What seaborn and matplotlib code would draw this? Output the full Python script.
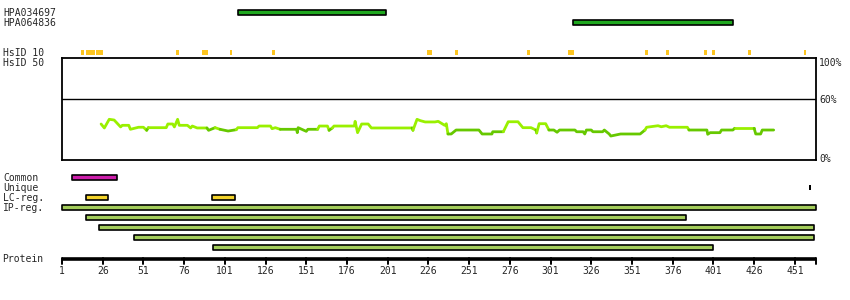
import matplotlib
matplotlib.use("Agg")
import matplotlib.pyplot as plt
import seaborn as sns
import numpy as np

# ---------------- data ----------------
protein_length = 464
tick_values = [1, 26, 51, 76, 101, 126, 151, 176, 201, 226, 251, 276, 301, 326, 351, 376, 401, 426, 451]

antibody_names = ["HPA034697", "HPA064836"]
antibody_start = [109, 315]
antibody_end = [200, 413]

hsid10_start = [12.7, 15.7, 21.9, 71.0, 86.9, 104.0, 129.8, 224.9, 242.1, 286.3, 312.0, 359.3, 371.6, 395.5, 400.4, 422.5, 456.8]
hsid10_end = [14.5, 21.2, 26.2, 72.8, 90.6, 105.3, 131.7, 228.0, 243.9, 288.1, 315.1, 361.1, 374.0, 397.3, 402.2, 424.3, 458.0]

common_start = [7]
common_end = [34.5]
unique_pos = [460]
lc_start = [16, 93]
lc_end = [29, 107]
ip_start = [1, 16, 24, 45, 94]
ip_end = [464, 384, 462.5, 462.5, 400.5]

sim_res = [25, 27, 30, 33, 37, 38, 42, 43, 48, 51, 53, 54, 65, 66, 69, 70, 72, 73, 78, 80, 81, 84, 90, 91,
           95, 98, 103, 108, 109, 121, 122, 129, 130, 132, 135, 145, 145.5, 146, 151, 152, 158, 159, 164,
           165, 167, 168, 180.5, 181, 182.5, 185, 189, 191, 216, 216.5, 219, 221, 224, 230, 232, 236, 237,
           238, 240, 243, 257, 259, 265, 265.5, 272, 275, 281, 284, 289, 292, 292.5, 294, 298, 300, 303,
           305, 306.5, 316, 317, 321, 322, 323, 326, 327, 333, 334, 337, 338, 344, 356, 359, 360, 367, 369,
           372, 374, 385, 386, 397, 397.5, 399, 405, 406, 413, 414, 426, 427, 430, 431, 438]
sim_pct = [35.3, 31.4, 39.9, 39.2, 32.4, 34.0, 34.0, 30.1, 32.1, 32.1, 29.1, 31.7, 31.7, 35.3, 35.3, 32.4,
           39.9, 34.0, 34.0, 31.4, 33.3, 31.4, 31.4, 29.1, 31.7, 30.1, 28.4, 29.7, 31.7, 31.7, 33.3, 33.3,
           30.7, 31.7, 30.1, 30.1, 26.8, 31.7, 28.1, 30.1, 30.1, 33.3, 33.3, 29.1, 31.4, 33.3, 33.3, 37.9,
           26.8, 35.3, 35.3, 31.4, 31.4, 29.1, 39.9, 38.6, 37.3, 37.3, 37.9, 34.0, 35.6, 25.5, 25.5, 29.4,
           29.4, 25.5, 25.5, 27.7, 27.7, 37.5, 37.5, 31.7, 31.7, 29.4, 26.5, 35.6, 35.6, 29.4, 29.4, 27.2,
           29.4, 29.4, 27.7, 27.7, 25.5, 29.4, 29.4, 27.7, 27.7, 29.4, 25.5, 23.5, 25.5, 25.5, 29.4, 32.1,
           33.6, 32.6, 33.6, 32.1, 32.1, 29.4, 29.4, 25.2, 26.8, 26.8, 29.4, 29.4, 31.1, 31.1, 25.5, 25.5,
           29.4, 29.4]

row_labels = ["Common", "Unique", "LC-reg.", "IP-reg."]

# ---------------- style ----------------
sns.set_style("white")
plt.rcParams["font.family"] = ["DejaVu Sans Mono"]
FS = 7

W, H = 850, 300
X0, X1 = 62, 816               # pixel extent of the protein axis
k = (X1 - X0) / (protein_length - 1)

def r_at(px):
    return 1 + (px - X0) / k

fig = plt.figure(figsize=(8.5, 3), dpi=100)
fig.patch.set_facecolor("white")
ax = fig.add_axes([0, 0, 1, 1])
ax.set_xlim(r_at(0), r_at(W))
ax.set_ylim(H, 0)
ax.axis("off")

def bars(starts, ends, y_top, h, color, lw=1.0):
    ax.broken_barh([(s, e - s) for s, e in zip(starts, ends)], (y_top, h),
                   facecolors=color, edgecolors="black", linewidth=lw)

# antibodies
ab_rows = [(9.7, 13), (20, 23)]
for (yt, yl), name, s, e in zip(ab_rows, antibody_names, antibody_start, antibody_end):
    bars([s], [e], yt, 5, "#1fa81f", lw=1.2)
    ax.text(r_at(3), yl, name, fontsize=FS, va="center", ha="left")

# HsID rows
ax.text(r_at(3), 52.5, "HsID 10", fontsize=FS, va="center", ha="left")
ax.text(r_at(3), 63, "HsID 50", fontsize=FS, va="center", ha="left")
ax.broken_barh([(s, e - s) for s, e in zip(hsid10_start, hsid10_end)], (49.7, 5),
               facecolors="#fdc520", edgecolors="none")

# feature rows
ylab = [178, 188, 198, 208]
for lab, yy in zip(row_labels, ylab):
    ax.text(r_at(3), yy, lab, fontsize=FS, va="center", ha="left")
bars(common_start, common_end, 175.2, 4.6, "#cc1eaa", lw=1.2)
ax.broken_barh([(p - 0.6, 1.3) for p in unique_pos], (185, 5), facecolors="black", edgecolors="none")
bars(lc_start, lc_end, 195, 4.6, "#f2d22a", lw=1.2)
ip_tops = [205, 215, 225, 235, 245]
for s, e, yt in zip(ip_start, ip_end, ip_tops):
    bars([s], [e], yt, 4.6, "#a3cc5a", lw=1.2)

# protein axis
ax.text(r_at(2), 258.5, "Protein", fontsize=FS, va="center", ha="left")
ax.plot([1, protein_length], [259.3, 259.3], color="black", lw=2.6, solid_capstyle="butt")
for t in tick_values + [protein_length]:
    ax.plot([t, t], [258, 264], color="black", lw=1.4)
for t in tick_values:
    ax.text(t, 271.5, str(t), fontsize=FS, va="center", ha="center")

# similarity panel
TOP, BOT = 58, 160
ax2 = fig.add_axes([X0 / W, (H - BOT) / H, (X1 - X0) / W, (BOT - TOP) / H])
ax2.set_xlim(1, protein_length)
ax2.set_ylim(0, 100)
ax2.set_xticks([]); ax2.set_yticks([])
ax2.set_facecolor("white")
for sp in ax2.spines.values():
    sp.set_visible(True)
    sp.set_color("black")
    sp.set_linewidth(1.3)
ax2.axhline(60, color="black", lw=1.0)

# split similarity line into light / dark runs
light, dark = "#99f000", "#66c800"
thr = 30.5
seg_cols = []
for i in range(len(sim_res) - 1):
    m = (sim_pct[i] + sim_pct[i + 1]) / 2
    seg_cols.append(light if m >= thr else dark)
runs = []
start = 0
for i in range(1, len(seg_cols) + 1):
    if i == len(seg_cols) or seg_cols[i] != seg_cols[start]:
        runs.append((start, i, seg_cols[start]))
        start = i
for a, b, c in runs:
    xs = sim_res[a:b + 1]
    ys = sim_pct[a:b + 1]
    sns.lineplot(x=xs, y=ys, sort=False, color=c, lw=2.0, ax=ax2, estimator=None)
ax2.set_xlabel(""); ax2.set_ylabel("")

for lab, yy in [("100%", 62.5), ("60%", 100), ("0%", 159.5)]:
    ax.text(r_at(819), yy, lab, fontsize=FS, va="center", ha="left")

fig.savefig("out.png", dpi=100, facecolor="white")
